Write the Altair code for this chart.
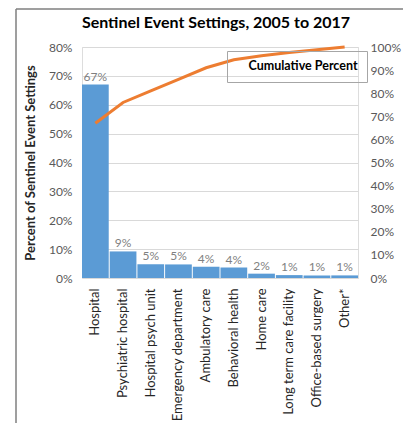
import altair as alt
import pandas as pd

categories = ["Hospital", "Psychiatric hospital", "Hospital psych unit",
              "Emergency department", "Ambulatory care", "Behavioral health",
              "Home care", "Long term care facility", "Office-based surgery", "Other*"]
percent = [67.0, 9.2, 4.8, 4.7, 3.9, 3.6, 1.5, 1.0, 0.9, 0.9]
labels = ["67%", "9%", "5%", "5%", "4%", "4%", "2%", "1%", "1%", "1%"]
cumulative = [67, 76, 81, 86, 91, 94.5, 96.2, 97.6, 98.8, 100]
left_ticks = [0, 10, 20, 30, 40, 50, 60, 70, 80]
right_ticks = [0, 10, 20, 30, 40, 50, 60, 70, 80, 90, 100]

df = pd.DataFrame({
    "Setting": categories,
    "Percent": percent,
    "Label": labels,
    "Cumulative": cumulative,
    "Series": ["Cumulative Percent"] * len(categories),
})

FONT = "Lato"
x_enc = alt.X("Setting:N", sort=categories, title=None,
              scale=alt.Scale(paddingInner=0.035, paddingOuter=0.0),
              axis=alt.Axis(labelAngle=-90, labelFontSize=13, labelColor="#262626",
                            labelPadding=10, ticks=False, domain=False,
                            labelFont=FONT, labelLimit=200))

y_left = alt.Y("Percent:Q", title="Percent of Sentinel Event Settings",
               scale=alt.Scale(domain=[0, 80], nice=False),
               axis=alt.Axis(values=left_ticks, labelExpr="datum.value + '%'",
                             grid=True, gridColor="#D9D9D9", ticks=False, domain=False,
                             labelFontSize=12, labelColor="#595959", labelPadding=10,
                             titleFontSize=13, titleFontWeight="bold", titleColor="#262626",
                             titlePadding=11, labelFont=FONT, titleFont=FONT,
                             labelOverlap=False))

base = alt.Chart(df)

bars = base.mark_bar(color="#5B9BD5").encode(x=x_enc, y=y_left)

bar_text = base.mark_text(dy=-8, fontSize=12, color="#7F7F7F", font=FONT).encode(
    x=x_enc, y=y_left, text="Label:N",
)

left = alt.layer(bars, bar_text)

line = base.mark_line(strokeWidth=3).encode(
    x=x_enc,
    y=alt.Y("Cumulative:Q", title=None,
            scale=alt.Scale(domain=[0, 100], nice=False),
            axis=alt.Axis(orient="right", values=right_ticks,
                          labelExpr="datum.value + '%'", grid=False, ticks=False,
                          domain=False, labelFontSize=12, labelColor="#595959",
                          labelPadding=12, labelFont=FONT, labelOverlap=False)),
    color=alt.Color("Series:N", scale=alt.Scale(range=["#ED7D31"]),
                    legend=alt.Legend(title=None, orient="none", legendX=145, legendY=4,
                                      symbolSize=0, symbolStrokeWidth=0, labelOffset=0,
                                      labelFontSize=12.5, labelFontWeight="bold",
                                      labelColor="#000000", labelFont=FONT,
                                      strokeColor="#A6A6A6", padding=9)),
)

frame_data = alt.Data(values=[{"k": 1}])
top_rule = alt.Chart(frame_data).mark_rule(color="#7F7F7F", strokeWidth=1.5).encode(
    x=alt.value(-66), x2=alt.value(330), y=alt.value(-38))
left_rule = alt.Chart(frame_data).mark_rule(color="#7F7F7F", strokeWidth=1.5).encode(
    x=alt.value(-66), y=alt.value(-38), y2=alt.value(376))

chart = alt.layer(left, line, top_rule, left_rule).resolve_scale(
    y="independent", color="independent"
).properties(
    width=276, height=231,
    title=alt.Title("Sentinel Event Settings, 2005 to 2017", fontSize=16,
                    fontWeight="bold", font=FONT, color="#000000", offset=-23,
                    frame="group", dx=-4),
    autosize=alt.AutoSizeParams(type="none"),
    padding={"left": 74, "top": 39, "right": 45, "bottom": 146},
).configure_view(stroke="#D9D9D9", strokeWidth=1).configure(background="white")

chart.save("out.html", embed_options={"renderer": "svg", "actions": False})
